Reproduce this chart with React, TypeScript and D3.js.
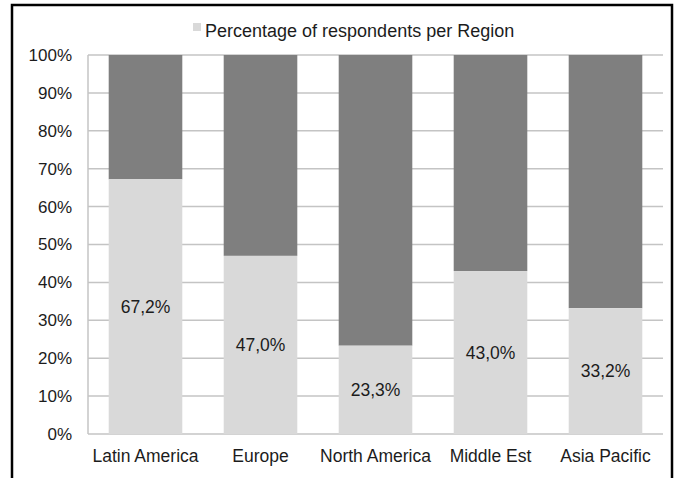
import * as d3 from 'd3';
import React from 'react';

const width = 682;
const height = 478;
const margin = { top: 55, right: 19, bottom: 44, left: 88 };

const regions = ['Latin America', 'Europe', 'North America', 'Middle Est', 'Asia Pacific'];
const respondents = [67.2, 47.0, 23.3, 43.0, 33.2];
const yTicks = [0, 10, 20, 30, 40, 50, 60, 70, 80, 90, 100];
const legendLabel = 'Percentage of respondents per Region';

const lightGray = '#d9d9d9';
const darkGray = '#7f7f7f';
const font = '"Liberation Sans", Arial, sans-serif';
const textColor = '#1c1c1c';

export default function App() {
  const x = d3
    .scaleBand<string>()
    .domain(regions)
    .range([margin.left, width - margin.right])
    .paddingInner(0.36)
    .paddingOuter(0.18);

  const y = d3
    .scaleLinear()
    .domain([0, 100])
    .range([height - margin.bottom, margin.top]);

  const fmt = (v: number) => v.toFixed(1).replace('.', ',') + '%';

  return (
    <svg
      width={width}
      height={height}
      style={{ position: 'absolute', left: 0, top: 0, background: '#fff' }}
    >
      {/* frame */}
      <rect x={12} y={5} width={660} height={480} fill="none" stroke="#000" strokeWidth={2.5} />

      {/* legend */}
      <rect x={193} y={23} width={8} height={8} fill={lightGray} />
      <text x={205} y={37} fontFamily={font} fontSize={18} fill={textColor}>
        {legendLabel}
      </text>

      {/* gridlines */}
      {yTicks.map((t) => (
        <line
          key={t}
          x1={margin.left}
          x2={width - margin.right}
          y1={y(t)}
          y2={y(t)}
          stroke="#c4c4c4"
          strokeWidth={1.5}
        />
      ))}
      <line
        x1={margin.left}
        x2={margin.left}
        y1={y(0)}
        y2={y(100)}
        stroke="#c4c4c4"
        strokeWidth={1.5}
      />

      {/* y tick labels */}
      {yTicks.map((t) => (
        <text
          key={t}
          x={margin.left - 16}
          y={y(t)}
          dy="0.35em"
          textAnchor="end"
          fontFamily={font}
          fontSize={17}
          fill={textColor}
        >
          {t}%
        </text>
      ))}

      {/* bars */}
      {regions.map((r, i) => {
        const v = respondents[i];
        const bx = x(r) as number;
        return (
          <g key={r}>
            <rect x={bx} y={y(100)} width={x.bandwidth()} height={y(v) - y(100)} fill={darkGray} />
            <rect x={bx} y={y(v)} width={x.bandwidth()} height={y(0) - y(v)} fill={lightGray} />
            <text
              x={bx + x.bandwidth() / 2}
              y={(y(v) + y(0)) / 2}
              dy="0.35em"
              textAnchor="middle"
              fontFamily={font}
              fontSize={17.5}
              fill={textColor}
            >
              {fmt(v)}
            </text>
            <text
              x={bx + x.bandwidth() / 2}
              y={y(0) + 28}
              textAnchor="middle"
              fontFamily={font}
              fontSize={17.5}
              fill={textColor}
            >
              {r}
            </text>
          </g>
        );
      })}
    </svg>
  );
}
